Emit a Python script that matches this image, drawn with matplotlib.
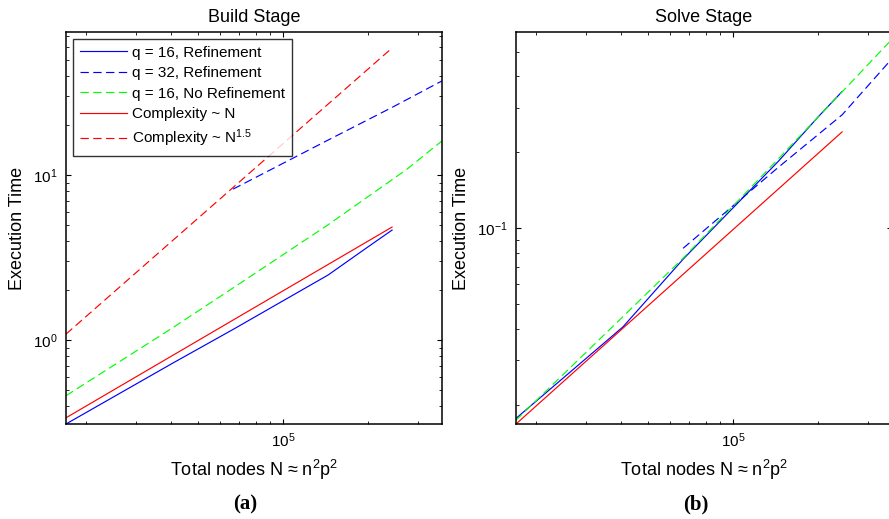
import numpy as np
import matplotlib
matplotlib.use('Agg')
import matplotlib.pyplot as plt
from matplotlib.ticker import LogLocator, NullFormatter

plt.rcParams['font.family'] = ['Liberation Sans', 'DejaVu Sans']
plt.rcParams['mathtext.fontset'] = 'custom'
plt.rcParams['mathtext.rm'] = 'Liberation Sans'
plt.rcParams['mathtext.it'] = 'Liberation Sans:italic'
plt.rcParams['mathtext.bf'] = 'Liberation Sans:bold'
plt.rcParams['lines.scale_dashes'] = False

# values (log-log axes)
N_ref16 = [1.7e4, 4.07e4, 6.65e4, 1.445e5, 2.0e5, 2.435e5]
N_ref32 = [6.65e4, 1.445e5, 2.435e5, 3.66e5]
N_noref = [1.7e4, 4.07e4, 6.65e4, 1.445e5, 2.74e5, 3.66e5]
N_cplx = [1.7e4, 2.435e5]

build_ref16 = [0.31, 0.726, 1.16, 2.48, 3.67, 4.64]
build_ref32 = [8.22, 16.3, 25.7, 37.2]
build_noref = [0.46, 1.19, 2.07, 5.0, 10.8, 16.1]
build_cplx_n = [0.338, 4.84]
build_cplx_n15 = [1.087, 58.9]

solve_ref16 = [0.01768, 0.0407, 0.0754, 0.1837, 0.2754, 0.3476]
solve_ref32 = [0.0833, 0.174, 0.281, 0.469]
solve_noref = [0.0174, 0.0447, 0.0761, 0.188, 0.398, 0.56]
solve_cplx_n = [0.0168, 0.2406]

labels = ['q = 16, Refinement', 'q = 32, Refinement', 'q = 16, No Refinement',
          'Complexity ~ N', 'Complexity ~ N$^{1.5}$']

W, H = 889, 519
fig = plt.figure(figsize=(W/100, H/100), dpi=100)
axA = fig.add_axes([66/W, 1-424/H, 376/W, 392/H])
axB = fig.add_axes([516/W, 1-424/H, 376/W, 392/H])

dash = (0, (6, 3.2))
lw = 0.85

def style(ax, ylim):
    ax.set_xscale('log')
    ax.set_yscale('log')
    ax.set_xlim(1.7e4, 3.66e5)
    ax.set_ylim(*ylim)
    ax.tick_params(which='both', direction='in', top=True, right=True, labelsize=11)
    ax.tick_params(which='major', length=3.8, width=0.8, pad=5)
    ax.tick_params(which='minor', length=2.2, width=0.6)
    ax.tick_params(axis='y', which='major', pad=6)
    for a in (ax.xaxis, ax.yaxis):
        a.set_minor_locator(LogLocator(base=10, subs=np.arange(2, 10)))
        a.set_minor_formatter(NullFormatter())
    for s in ax.spines.values():
        s.set_linewidth(1.1)
    ax.set_xlabel('Total nodes N \u2248 n$^2$p$^2$', fontsize=13, labelpad=6)
    ax.set_ylabel('Execution Time', fontsize=13, labelpad=5)

# (a) build stage
axA.plot(N_ref16, build_ref16, color='b', lw=lw, label=labels[0])
axA.plot(N_ref32, build_ref32, color='b', lw=lw, linestyle=dash, label=labels[1])
axA.plot(N_noref, build_noref, color='#00ff00', lw=lw, linestyle=dash, label=labels[2])
axA.plot(N_cplx, build_cplx_n, color='r', lw=lw, label=labels[3])
axA.plot(N_cplx, build_cplx_n15, color='r', lw=lw, linestyle=dash, label=labels[4])
style(axA, (0.31, 73.6))
axA.set_title('Build Stage', fontsize=13, pad=7)
leg = axA.legend(loc='upper left', fontsize=11, handlelength=3.1, handletextpad=0.3,
                 borderpad=0.45, borderaxespad=0.45, labelspacing=0.42, fancybox=False)
leg.get_frame().set_edgecolor('black')
leg.get_frame().set_linewidth(1.0)

# (b) solve stage
axB.plot(N_ref16, solve_ref16, color='b', lw=lw)
axB.plot(N_ref32, solve_ref32, color='b', lw=lw, linestyle=dash)
axB.plot(N_noref, solve_noref, color='#00ff00', lw=lw, linestyle=dash)
axB.plot(N_cplx, solve_cplx_n, color='r', lw=lw)
style(axB, (0.0168, 0.598))
axB.set_title('Solve Stage', fontsize=13, pad=7)

fig.text(245/W, 1-504/H, '(a)', fontsize=15, fontweight='bold', family='Liberation Serif',
         ha='center', va='center')
fig.text(696/W, 1-504/H, '(b)', fontsize=15, fontweight='bold', family='Liberation Serif',
         ha='center', va='center')

fig.savefig('out.png', dpi=100)
